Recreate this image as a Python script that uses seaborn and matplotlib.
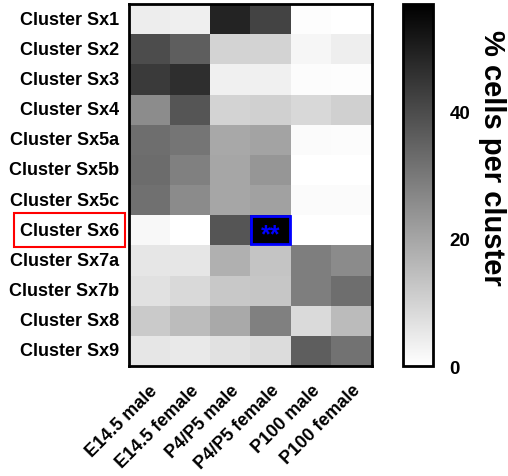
import numpy as np
import pandas as pd
import matplotlib
matplotlib.use("Agg")
import matplotlib.pyplot as plt
import seaborn as sns
from matplotlib.patches import Rectangle
from matplotlib.colors import LinearSegmentedColormap

clusters = ["Cluster Sx1", "Cluster Sx2", "Cluster Sx3", "Cluster Sx4",
            "Cluster Sx5a", "Cluster Sx5b", "Cluster Sx5c", "Cluster Sx6",
            "Cluster Sx7a", "Cluster Sx7b", "Cluster Sx8", "Cluster Sx9"]
groups = ["E14.5 male", "E14.5 female", "P4/P5 male", "P4/P5 female",
          "P100 male", "P100 female"]

# % cells per cluster
e14_male = [4.2, 40, 44, 25.7, 32.4, 32.9, 32, 1.6, 5.6, 6.9, 12, 5.6]
e14_female = [3.6, 36, 46.7, 38, 30.8, 28.4, 26, 0, 5.6, 8.5, 15, 5.1]
p4_male = [49, 9.8, 3.4, 9.8, 19.4, 19.9, 20, 38, 17.7, 12.3, 19.2, 6.9]
p4_female = [42, 10, 3.4, 10.5, 20.6, 23.5, 21, 57, 13.2, 12.7, 28.4, 7.8]
p100_male = [0.5, 2.2, 0.7, 8.7, 1.1, 0, 1, 0, 28.8, 28.8, 8.3, 36]
p100_female = [0, 3.8, 0.5, 10.5, 0.7, 0, 1, 0, 26, 32.4, 15.2, 31.5]

cbar_ticks = [0, 20, 40]

df = pd.DataFrame(
    np.column_stack([e14_male, e14_female, p4_male, p4_female, p100_male, p100_female]),
    index=clusters, columns=groups)

sns.set_style("white")
plt.rcParams["font.family"] = ["Liberation Sans", "DejaVu Sans"]
plt.rcParams["font.weight"] = "bold"
plt.rcParams["text.color"] = "black"
plt.rcParams["xtick.color"] = "black"
plt.rcParams["ytick.color"] = "black"
plt.rcParams["axes.labelcolor"] = "black"

# plain linear white -> black ramp
grey_ramp = LinearSegmentedColormap.from_list("grey_ramp", ["white", "black"])

fig = plt.figure(figsize=(5.08, 4.77), dpi=100)
ax = fig.add_axes([0.254, 0.2306, 0.478, 0.7589])
cax = fig.add_axes([0.793, 0.2306, 0.059, 0.7589])

sns.heatmap(df, ax=ax, cbar_ax=cax, cmap=grey_ramp, vmin=0, vmax=57,
            cbar_kws={"ticks": cbar_ticks})

# thick frames
for sp in ax.spines.values():
    sp.set_visible(True)
    sp.set_linewidth(2)
    sp.set_color("black")
cb = ax.collections[0].colorbar
cb.outline.set_linewidth(2)
cb.outline.set_edgecolor("black")

ax.tick_params(axis="y", length=0, pad=7)
ax.tick_params(axis="x", length=0, pad=11)
ax.set_yticklabels(clusters, rotation=0, fontsize=13, fontweight="bold")
ax.set_xticklabels(groups, rotation=45, ha="right", rotation_mode="anchor",
                   fontsize=13, fontweight="bold")
ax.set_xlabel("")
ax.set_ylabel("")

cax.tick_params(axis="y", direction="in", length=5, width=1.2, left=True, right=True,
                labelsize=13.5, pad=12)
for t in cax.get_yticklabels():
    t.set_fontweight("bold")
cax.set_ylabel("")
fig.text(492 / 508, 1 - 158 / 477, "% cells per cluster", rotation=270,
         fontsize=21, fontweight="bold", ha="center", va="center")

# highlight cell and label
row6 = clusters.index("Cluster Sx6")
col = groups.index("P4/P5 female")
ax.add_patch(Rectangle((col + 0.02, row6 + 0.03), 0.96, 0.94, fill=False,
                       edgecolor="blue", linewidth=2, zorder=5))
ax.text(col + 0.5, row6 + 0.62, "**", color="blue", fontsize=18, fontweight="bold",
        ha="center", va="center", zorder=6)

fig.canvas.draw()
lab = ax.get_yticklabels()[row6]
bb = lab.get_window_extent().transformed(fig.transFigure.inverted())
fig.add_artist(Rectangle((bb.x0 - 0.012, bb.y0 - 0.018), bb.width + 0.024,
                         bb.height + 0.036, transform=fig.transFigure,
                         fill=False, edgecolor="red", linewidth=1.5))

fig.savefig("out.png", dpi=100)
